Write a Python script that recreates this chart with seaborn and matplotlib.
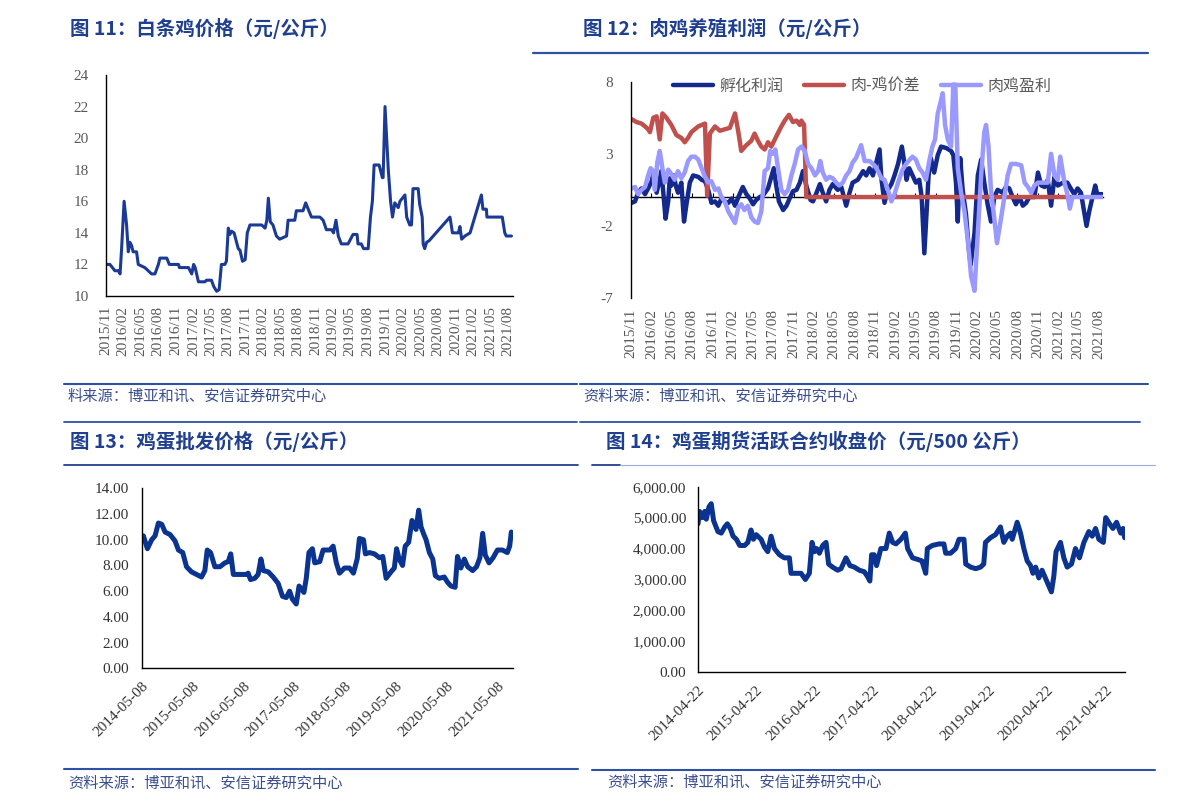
# Four-panel chicken / egg price page (broiler, broiler profit, egg wholesale, egg futures)

import pandas as pd
import matplotlib
matplotlib.use("Agg")
import matplotlib.pyplot as plt
from matplotlib.lines import Line2D
from matplotlib.font_manager import FontProperties
import seaborn as sns

sns.set_style("white")
plt.rcParams['font.family'] = ['Noto Sans CJK SC', 'DejaVu Sans']
plt.rcParams['axes.unicode_minus'] = False

# *Data*

# Fig 11: white-striped chicken price (yuan/kg)
p1_dates = ['2015-11-01', '2015-11-23', '2015-12-19', '2016-01-06', '2016-01-15', '2016-01-23',
            '2016-02-05', '2016-02-18', '2016-02-27', '2016-03-06', '2016-03-15', '2016-03-23',
            '2016-04-10', '2016-04-19', '2016-05-06', '2016-05-23', '2016-06-10', '2016-06-27',
            '2016-07-15', '2016-08-02', '2016-08-10', '2016-09-15', '2016-09-28', '2016-11-15',
            '2016-11-20', '2017-01-06', '2017-01-23', '2017-02-02', '2017-02-10', '2017-02-27',
            '2017-04-02', '2017-04-10', '2017-05-06', '2017-05-18', '2017-06-02', '2017-06-15',
            '2017-06-27', '2017-07-15', '2017-07-23', '2017-08-02', '2017-08-10', '2017-08-19',
            '2017-09-01', '2017-09-23', '2017-10-02', '2017-10-15', '2017-10-29', '2017-11-09',
            '2017-11-23', '2018-01-23', '2018-02-10', '2018-02-19', '2018-02-27', '2018-03-09',
            '2018-03-23', '2018-04-10', '2018-04-27', '2018-05-15', '2018-06-02', '2018-06-10',
            '2018-07-15', '2018-07-23', '2018-08-27', '2018-09-10', '2018-09-23', '2018-10-10',
            '2018-11-23', '2018-12-10', '2018-12-27', '2019-01-23', '2019-02-02', '2019-02-15',
            '2019-02-27', '2019-03-15', '2019-04-19', '2019-05-15', '2019-06-05', '2019-06-10',
            '2019-06-27', '2019-07-09', '2019-08-02', '2019-08-14', '2019-08-24', '2019-09-02',
            '2019-09-28', '2019-10-15', '2019-10-19', '2019-10-29', '2019-11-15', '2019-11-27',
            '2019-12-07', '2019-12-19', '2020-01-06', '2020-01-15', '2020-02-10', '2020-02-19',
            '2020-03-06', '2020-03-15', '2020-03-23', '2020-04-19', '2020-04-27', '2020-05-10',
            '2020-05-15', '2020-05-23', '2020-06-02', '2020-06-15', '2020-10-02', '2020-10-15',
            '2020-11-15', '2020-11-23', '2020-12-02', '2020-12-19', '2021-01-15', '2021-03-15',
            '2021-03-23', '2021-04-10', '2021-04-13', '2021-07-02', '2021-07-15', '2021-07-23',
            '2021-08-19']
p1_price = [12.0, 12.0, 11.6, 11.6, 11.4, 13.0,
            16.0, 14.5, 12.8, 13.4, 13.2, 12.8,
            12.8, 12.0, 11.9, 11.8, 11.6, 11.4,
            11.4, 12.0, 12.4, 12.4, 12.0, 12.0,
            11.8, 11.8, 11.4, 12.0, 11.8, 10.9,
            10.9, 11.0, 11.0, 10.6, 10.3, 10.4,
            12.0, 12.0, 12.2, 14.3, 13.9, 14.1,
            14.0, 13.0, 12.9, 12.2, 12.3, 14.0,
            14.5, 14.5, 14.3, 14.8, 16.2, 14.7,
            14.5, 13.8, 13.6, 13.7, 13.8, 14.8,
            14.8, 15.4, 15.4, 15.9, 15.5, 15.0,
            15.0, 14.8, 14.2, 14.2, 14.0, 14.8,
            13.8, 13.3, 13.3, 13.9, 13.9, 13.3,
            13.3, 13.0, 13.0, 15.0, 16.0, 18.3,
            18.3, 17.5, 17.5, 22.0, 18.0, 16.0,
            15.0, 15.9, 15.6, 16.0, 16.4, 15.0,
            14.5, 14.5, 16.8, 16.8, 15.8, 15.0,
            13.3, 13.0, 13.4, 13.5, 15.0, 14.0,
            14.0, 14.4, 13.6, 13.8, 14.0, 16.4,
            15.5, 15.5, 15.0, 15.0, 14.0, 13.8,
            13.8]

# Fig 12: broiler farming profit (yuan/kg), three series
series_names = ['孵化利润', '肉-鸡价差', '肉鸡盈利']
series_colors = ['#14298C', '#C0504D', '#9999FF']

hatch_dates = ['2015-11-04', '2015-11-19', '2015-12-03', '2015-12-18', '2016-01-03', '2016-01-17',
               '2016-02-02', '2016-02-09', '2016-02-24', '2016-03-09', '2016-03-16', '2016-03-24',
               '2016-04-04', '2016-04-16', '2016-04-23', '2016-04-30', '2016-05-11', '2016-05-20',
               '2016-05-30', '2016-06-14', '2016-06-26', '2016-07-07', '2016-07-22', '2016-08-06',
               '2016-08-29', '2016-09-13', '2016-09-28', '2016-10-13', '2016-10-27', '2016-11-12',
               '2016-11-27', '2016-12-11', '2016-12-26', '2017-01-11', '2017-01-26', '2017-02-10',
               '2017-02-25', '2017-03-17', '2017-04-02', '2017-04-17', '2017-05-02', '2017-05-16',
               '2017-06-01', '2017-06-15', '2017-07-08', '2017-07-23', '2017-08-03', '2017-08-14',
               '2017-08-26', '2017-09-14', '2017-09-29', '2017-10-13', '2017-10-28', '2017-11-13',
               '2017-11-28', '2017-12-12', '2017-12-27', '2018-01-15', '2018-01-26', '2018-02-11',
               '2018-02-26', '2018-03-11', '2018-03-26', '2018-04-10', '2018-04-25', '2018-05-17',
               '2018-06-02', '2018-06-24', '2018-07-09', '2018-07-23', '2018-08-15', '2018-09-08',
               '2018-09-22', '2018-10-07', '2018-10-22', '2018-11-21', '2018-11-29', '2018-12-13',
               '2018-12-28', '2019-01-13', '2019-01-27', '2019-02-12', '2019-03-01', '2019-03-11',
               '2019-03-22', '2019-04-03', '2019-04-18', '2019-05-03', '2019-05-18', '2019-05-29',
               '2019-06-10', '2019-06-20', '2019-06-29', '2019-07-09', '2019-07-24', '2019-08-09',
               '2019-08-24', '2019-09-16', '2019-10-08', '2019-10-18', '2019-10-30', '2019-11-07',
               '2019-11-18', '2019-11-29', '2019-12-14', '2019-12-26', '2020-01-04', '2020-01-21',
               '2020-02-05', '2020-02-20', '2020-03-05', '2020-03-20', '2020-04-04', '2020-04-19',
               '2020-05-04', '2020-05-26', '2020-06-10', '2020-06-25', '2020-07-10', '2020-07-25',
               '2020-08-10', '2020-08-25', '2020-09-09', '2020-09-23', '2020-10-16', '2020-11-01',
               '2020-11-16', '2020-12-01', '2020-12-15', '2020-12-30', '2021-01-14', '2021-01-29',
               '2021-02-21', '2021-03-13', '2021-03-28', '2021-04-13', '2021-04-28', '2021-05-13',
               '2021-05-27', '2021-06-07', '2021-06-19', '2021-07-04', '2021-07-16', '2021-07-25',
               '2021-08-18']
hatch_profit = [-0.4, -0.3, 0.3, 0.6, 0.2, 0.6,
                1.1, 1.6, 0.3, 1.2, 1.8, 0.5,
                -1.5, -0.3, 1.3, 0.8, 1.5, 0.8,
                0.3, 1.0, -1.7, -0.5, 1.0, 1.5,
                1.4, 1.2, 1.1, 0.5, -0.4, -0.3,
                -0.6, -0.1, -0.3, -0.4, -0.1, -0.6,
                0.0, 0.7, 0.2, -0.1, -0.5, -0.2,
                0.0, 0.1, 0.6, 1.4, 2.0, 0.8,
                -0.3, -0.9, -0.6, -0.1, 0.4, 0.5,
                1.0, 1.8, 0.8, -0.2, -0.3, 0.3,
                0.9, 0.3, -0.3, 0.5, 0.9, 0.5,
                0.7, -0.6, 0.3, 1.0, 1.2, 1.8,
                1.5, 2.0, 1.5, 3.3, 1.3, -0.4,
                0.5, 0.9, 1.5, 2.3, 3.5, 2.5,
                1.2, 2.0, 1.5, 1.0, 1.2, 0.0,
                -3.9, -1.0, 1.5, 2.7, 1.7, 2.9,
                3.5, 3.4, 3.2, 2.9, 1.0, -1.7,
                2.7, 0.5, -1.2, -3.5, -4.7, -2.5,
                1.5, 2.6, 1.0, -0.5, -1.7, 0.0,
                0.5, 0.3, 0.7, 0.6, 0.0, -0.5,
                0.0, -0.6, -0.4, 0.0, 0.0, 1.7,
                0.8, 0.7, 1.2, -0.6, 1.4, 0.8,
                1.0, 1.0, 0.6, 0.2, 0.6, 0.3,
                -1.0, -2.0, -1.0, 0.0, 0.8, 0.2,
                0.2]

spread_dates = ['2015-11-04', '2015-11-26', '2015-12-18', '2016-01-03', '2016-01-17', '2016-01-25',
                '2016-02-09', '2016-02-24', '2016-03-09', '2016-03-21', '2016-04-08', '2016-04-30',
                '2016-05-23', '2016-06-14', '2016-06-29', '2016-07-14', '2016-07-29', '2016-08-29',
                '2016-09-28', '2016-10-08', '2016-10-20', '2016-11-12', '2016-12-04', '2016-12-26',
                '2017-01-18', '2017-02-10', '2017-02-25', '2017-03-10', '2017-04-02', '2017-04-24',
                '2017-05-09', '2017-05-24', '2017-06-08', '2017-06-23', '2017-07-08', '2017-07-23',
                '2017-08-14', '2017-09-06', '2017-09-21', '2017-10-10', '2017-10-28', '2017-11-13',
                '2017-11-28', '2017-12-05', '2017-12-17', '2017-12-27', '2021-04-05']
spread_value = [5.4, 5.2, 5.1, 4.9, 4.7, 4.5,
                5.5, 5.6, 4.0, 5.8, 5.5, 5.0,
                4.3, 4.1, 3.8, 4.1, 4.5, 4.9,
                5.1, 0.1, 4.4, 4.9, 4.6, 4.7,
                4.8, 5.8, 4.5, 3.2, 3.6, 3.9,
                4.4, 3.9, 3.5, 3.3, 3.8, 3.5,
                4.2, 4.9, 5.3, 5.7, 5.2, 5.3,
                5.0, 5.3, 5.0, 0.0, 0.0]

broiler_dates = ['2015-11-04', '2015-11-19', '2015-12-03', '2015-12-18', '2016-01-03', '2016-01-17',
                 '2016-01-28', '2016-02-09', '2016-02-16', '2016-02-27', '2016-03-09', '2016-03-21',
                 '2016-04-01', '2016-04-16', '2016-04-30', '2016-05-15', '2016-05-30', '2016-06-14',
                 '2016-06-29', '2016-07-14', '2016-07-29', '2016-08-14', '2016-08-29', '2016-09-13',
                 '2016-09-28', '2016-10-13', '2016-10-27', '2016-11-12', '2016-11-27', '2016-12-11',
                 '2016-12-26', '2017-01-11', '2017-01-26', '2017-02-10', '2017-02-25', '2017-03-10',
                 '2017-03-24', '2017-04-09', '2017-04-24', '2017-05-09', '2017-05-24', '2017-06-08',
                 '2017-06-23', '2017-07-08', '2017-07-18', '2017-07-30', '2017-08-10', '2017-08-22',
                 '2017-09-06', '2017-09-21', '2017-10-06', '2017-10-21', '2017-11-05', '2017-11-20',
                 '2017-12-05', '2017-12-20', '2018-01-04', '2018-01-19', '2018-02-04', '2018-02-18',
                 '2018-02-28', '2018-03-11', '2018-03-26', '2018-04-10', '2018-04-25', '2018-05-10',
                 '2018-05-24', '2018-06-09', '2018-06-24', '2018-07-09', '2018-07-23', '2018-08-07',
                 '2018-08-30', '2018-09-15', '2018-10-07', '2018-10-29', '2018-11-14', '2018-11-29',
                 '2018-12-13', '2018-12-28', '2019-01-13', '2019-01-27', '2019-02-12', '2019-03-04',
                 '2019-03-25', '2019-04-18', '2019-05-03', '2019-05-18', '2019-06-02', '2019-06-17',
                 '2019-07-02', '2019-07-16', '2019-07-28', '2019-08-09', '2019-08-19', '2019-08-31',
                 '2019-09-11', '2019-09-23', '2019-10-08', '2019-10-18', '2019-10-27', '2019-11-07',
                 '2019-11-22', '2019-12-07', '2019-12-22', '2020-01-06', '2020-01-21', '2020-02-05',
                 '2020-02-20', '2020-03-05', '2020-03-13', '2020-03-24', '2020-04-04', '2020-04-19',
                 '2020-05-01', '2020-05-19', '2020-06-03', '2020-06-18', '2020-07-03', '2020-07-25',
                 '2020-08-18', '2020-09-02', '2020-09-17', '2020-10-02', '2020-10-16', '2020-11-01',
                 '2020-11-23', '2020-12-15', '2020-12-30', '2021-01-14', '2021-01-29', '2021-02-09',
                 '2021-02-28', '2021-03-13', '2021-03-24', '2021-04-05', '2021-08-18']
broiler_profit = [0.6, 0.7, 0.2, 0.5, 0.7, 1.5,
                  2.0, 1.8, 0.5, 2.4, 3.2, 2.0,
                  1.0, 1.9, 1.6, 1.2, 1.8, 1.3,
                  1.7, 2.5, 2.8, 2.8, 2.6, 2.0,
                  1.4, 1.0, 1.1, 0.5, 0.6, 0.0,
                  -0.3, -1.0, -1.4, -1.8, -0.7, -0.5,
                  -0.9, -0.6, -1.4, -1.7, -1.8, -1.0,
                  1.8, 2.0, 3.2, 3.0, 3.3, 2.0,
                  0.5, 0.2, 0.5, 1.5, 2.3, 3.3,
                  3.5, 3.2, 2.3, 2.0, 1.5, 1.8,
                  2.5, 1.7, 1.2, 1.4, 1.3, 1.0,
                  0.8, 1.0, 1.5, 1.8, 2.4, 2.7,
                  3.6, 2.5, 2.5, 2.2, 1.8, 1.3,
                  1.2, 0.5, -0.3, 0.2, 1.0, 1.9,
                  2.4, 2.8, 2.6, 2.0, 1.7, 1.2,
                  2.5, 3.5, 4.0, 5.8, 6.4, 7.2,
                  5.0, 4.0, 3.5, 7.8, 7.8, 2.0,
                  0.3, -1.0, -3.0, -5.5, -6.5, -2.5,
                  1.5, 4.5, 5.0, 3.5, 0.5, -1.5,
                  -3.2, -1.5, 0.0, 1.5, 2.3, 2.3,
                  2.2, 1.0, 0.7, 0.3, 0.8, 1.0,
                  1.0, 1.0, 3.0, 1.5, 1.2, 2.8,
                  1.0, 0.2, -0.8, 0.0, 0.0]

# Fig 13: egg wholesale price (yuan/kg)
p3_dates = ['2014-05-08', '2014-05-20', '2014-06-18', '2014-07-19', '2014-08-12', '2014-09-05',
            '2014-09-29', '2014-10-23', '2014-11-28', '2015-01-03', '2015-01-27', '2015-02-27',
            '2015-03-26', '2015-05-01', '2015-06-06', '2015-07-12', '2015-08-05', '2015-08-22',
            '2015-09-15', '2015-10-16', '2015-11-21', '2015-12-27', '2016-01-20', '2016-02-07',
            '2016-02-26', '2016-04-01', '2016-05-30', '2016-06-11', '2016-06-28', '2016-07-29',
            '2016-08-22', '2016-09-11', '2016-09-28', '2016-11-03', '2016-12-08', '2017-01-13',
            '2017-02-13', '2017-03-12', '2017-04-05', '2017-04-24', '2017-05-23', '2017-06-12',
            '2017-07-05', '2017-07-17', '2017-08-03', '2017-08-22', '2017-09-16', '2017-10-03',
            '2017-11-08', '2017-12-02', '2018-01-19', '2018-02-12', '2018-03-07', '2018-03-30',
            '2018-05-05', '2018-06-10', '2018-07-08', '2018-08-04', '2018-08-20', '2018-09-18',
            '2018-10-02', '2018-10-31', '2018-12-06', '2019-01-11', '2019-02-04', '2019-02-28',
            '2019-04-04', '2019-04-28', '2019-05-14', '2019-06-02', '2019-06-26', '2019-07-15',
            '2019-08-09', '2019-09-02', '2019-10-01', '2019-10-20', '2019-11-06', '2019-11-23',
            '2019-12-12', '2020-01-05', '2020-01-29', '2020-02-17', '2020-03-16', '2020-04-21',
            '2020-05-14', '2020-06-08', '2020-07-08', '2020-07-25', '2020-08-18', '2020-09-12',
            '2020-10-06', '2020-11-11', '2020-12-09', '2021-01-02', '2021-01-22', '2021-02-10',
            '2021-03-09', '2021-04-07', '2021-05-08', '2021-06-13', '2021-07-18', '2021-08-04',
            '2021-08-16', '2021-08-28']
p3_price = [10.0, 10.3, 9.3, 10.0, 10.3, 11.3,
            11.2, 10.6, 10.4, 9.9, 9.2, 9.0,
            7.9, 7.5, 7.3, 7.1, 7.6, 9.2,
            9.0, 7.9, 7.9, 8.2, 8.3, 8.9,
            7.3, 7.3, 7.3, 7.4, 6.9, 7.0,
            7.3, 8.5, 7.6, 7.5, 7.1, 6.6,
            5.6, 5.5, 6.0, 5.4, 5.0, 6.4,
            6.1, 5.9, 7.0, 9.0, 9.3, 8.2,
            8.3, 9.2, 9.2, 9.5, 8.2, 7.4,
            7.8, 7.8, 7.4, 8.5, 10.1, 10.0,
            8.9, 9.0, 8.9, 8.6, 8.7, 7.0,
            7.5, 7.8, 9.3, 8.5, 8.0, 9.5,
            9.8, 11.5, 10.8, 12.3, 11.0, 10.5,
            10.0, 9.0, 8.5, 7.2, 7.0, 7.1,
            6.7, 6.4, 6.3, 8.7, 7.8, 8.5,
            7.9, 7.6, 7.9, 8.6, 10.5, 8.8,
            8.2, 8.6, 9.2, 9.2, 9.0, 9.5,
            10.6, 10.4]

# Fig 14: egg futures active contract close (yuan/500kg)
p4_dates = ['2014-04-22', '2014-05-02', '2014-05-19', '2014-06-03', '2014-06-13', '2014-06-30',
            '2014-07-14', '2014-07-29', '2014-08-25', '2014-09-15', '2014-10-07', '2014-10-23',
            '2014-11-11', '2014-11-28', '2014-12-19', '2015-01-09', '2015-02-09', '2015-03-01',
            '2015-03-21', '2015-04-05', '2015-04-22', '2015-05-23', '2015-06-13', '2015-07-04',
            '2015-07-25', '2015-08-15', '2015-09-15', '2015-10-16', '2015-11-17', '2015-11-27',
            '2015-12-29', '2016-01-29', '2016-02-25', '2016-03-21', '2016-04-07', '2016-04-22',
            '2016-05-06', '2016-05-23', '2016-06-13', '2016-07-04', '2016-07-20', '2016-08-14',
            '2016-09-15', '2016-10-06', '2016-11-06', '2016-12-01', '2016-12-29', '2017-01-29',
            '2017-03-01', '2017-03-21', '2017-04-05', '2017-04-16', '2017-05-02', '2017-05-17',
            '2017-06-13', '2017-07-15', '2017-08-05', '2017-08-26', '2017-09-16', '2017-10-17',
            '2017-11-14', '2017-11-28', '2017-12-29', '2018-01-30', '2018-02-26', '2018-03-22',
            '2018-04-01', '2018-05-02', '2018-06-13', '2018-07-14', '2018-07-25', '2018-08-25',
            '2018-09-26', '2018-10-17', '2018-11-17', '2018-11-28', '2018-12-29', '2019-01-30',
            '2019-03-01', '2019-03-21', '2019-04-01', '2019-05-02', '2019-06-03', '2019-07-04',
            '2019-07-25', '2019-08-15', '2019-09-05', '2019-09-16', '2019-10-17', '2019-11-07',
            '2019-11-28', '2019-12-19', '2020-01-09', '2020-01-24', '2020-02-10', '2020-03-01',
            '2020-03-21', '2020-04-11', '2020-05-02', '2020-05-19', '2020-06-03', '2020-06-17',
            '2020-07-15', '2020-08-05', '2020-08-26', '2020-09-22', '2020-10-17', '2020-11-11',
            '2020-12-09', '2021-01-09', '2021-01-30', '2021-02-20', '2021-03-13', '2021-04-10',
            '2021-04-25', '2021-05-19', '2021-06-09', '2021-07-02', '2021-07-13', '2021-07-28',
            '2021-08-12', '2021-08-22']
p4_close = [4800, 5200, 5000, 5200, 4950, 5350,
            5450, 4900, 4550, 4500, 4700, 4800,
            4650, 4400, 4300, 4100, 4100, 4200,
            4600, 4300, 4450, 4300, 4050, 3900,
            4400, 4000, 3800, 3700, 3700, 3200,
            3200, 3200, 3000, 3200, 4200, 3900,
            4000, 3850, 4100, 4200, 3500, 3400,
            3300, 3350, 3700, 3450, 3400, 3300,
            3250, 3100, 2950, 3800, 3800, 3450,
            4000, 4000, 4500, 4200, 4150, 4300,
            4500, 4000, 3700, 3650, 3600, 3200,
            4000, 4100, 4150, 4150, 3850, 3850,
            4000, 4300, 4300, 3500, 3400, 3350,
            3400, 3500, 4200, 4350, 4450, 4700,
            4200, 4400, 4500, 4300, 4850, 4500,
            4000, 3600, 3450, 3200, 3400, 3050,
            3300, 3050, 2800, 2600, 3100, 3900,
            4200, 3700, 3400, 3500, 4000, 3700,
            4200, 4550, 4400, 4650, 4300, 4200,
            5000, 4800, 4650, 4850, 4700, 4500,
            4650, 4350]

# *Layout helpers* (page is 1191 x 811 px)
W, H = 1191, 811
fig = plt.figure(figsize=(W / 100, H / 100), dpi=100)

def px_axes(x0, y0, x1, y1):
    return fig.add_axes([x0 / W, 1 - y1 / H, (x1 - x0) / W, (y1 - y0) / H])

def rule(x0, x1, y, color, lw):
    fig.add_artist(Line2D([x0 / W, x1 / W], [1 - y / H, 1 - y / H], color=color, lw=lw,
                          transform=fig.transFigure))

def page_text(x, y, s, **kw):
    fig.text(x / W, 1 - y / H, s, ha='left', va='center', **kw)

title_color = '#1F3F8F'
rule_color = '#2E52A3'
source_color = '#3B4F8E'
serif = 'Liberation Serif'
grey_tick = dict(fontfamily=serif, fontsize=11, color='#595959')
dark_tick = dict(fontfamily=serif, fontsize=11, color='#333333')

def style_spines(ax):
    sns.despine(ax=ax)
    for s in ['left', 'bottom']:
        ax.spines[s].set_color('black')
        ax.spines[s].set_linewidth(1)

quarter_ticks = pd.date_range('2015-11-01', '2021-08-01', freq='3MS')

# *Fig 11*
ax1 = px_axes(105.7, 75, 513, 296)
df1 = pd.DataFrame({'date': pd.to_datetime(p1_dates), 'price': p1_price})
sns.lineplot(data=df1, x='date', y='price', ax=ax1, color='#1B3A96', linewidth=2.2)
ax1.set_xlim(pd.Timestamp('2015-11-01'), pd.Timestamp('2021-08-27'))
ax1.set_ylim(10, 24)
ax1.set_yticks(range(10, 25, 2))
ax1.set_yticklabels([str(v) for v in range(10, 25, 2)], **grey_tick)
ax1.set_xticks(quarter_ticks)
ax1.set_xticklabels([d.strftime('%Y/%m') for d in quarter_ticks], rotation=90, **grey_tick)
ax1.tick_params(direction='in', length=4, width=0.8, color='black')
ax1.tick_params(axis='x', pad=7)
ax1.tick_params(axis='y', pad=12)
ax1.set_xlabel('')
ax1.set_ylabel('')
style_spines(ax1)

# *Fig 12*
ax2 = px_axes(631, 81.7, 1103, 298)
df2 = pd.concat([
    pd.DataFrame({'date': pd.to_datetime(hatch_dates), 'value': hatch_profit, 'series': series_names[0]}),
    pd.DataFrame({'date': pd.to_datetime(spread_dates), 'value': spread_value, 'series': series_names[1]}),
    pd.DataFrame({'date': pd.to_datetime(broiler_dates), 'value': broiler_profit, 'series': series_names[2]}),
])
sns.lineplot(data=df2, x='date', y='value', hue='series', hue_order=series_names,
             palette=dict(zip(series_names, series_colors)), estimator=None,
             linewidth=3.2, ax=ax2, legend=False)
ax2.set_xlim(pd.Timestamp('2015-11-01'), pd.Timestamp('2021-08-20'))
ax2.set_ylim(-7, 8)
ax2.set_yticks([-7, -2, 3, 8])
ax2.set_yticklabels(['-7', '-2', '3', '8'], **grey_tick)
ax2.set_xticks(quarter_ticks)
ax2.set_xticklabels([d.strftime('%Y/%m') for d in quarter_ticks], rotation=90, **grey_tick)
ax2.tick_params(axis='x', length=0, pad=8)
ax2.tick_params(axis='y', length=0, pad=13)
ax2.set_xlabel('')
ax2.set_ylabel('')
style_spines(ax2)
ax2.spines['bottom'].set_visible(False)
# horizontal axis crosses at zero
zero_axis = ax2.secondary_xaxis(7 / 15)
zero_axis.set_xticks(quarter_ticks)
zero_axis.tick_params(axis='x', direction='in', length=3, width=0.8, color='black',
                      labelbottom=False, labeltop=False)
zero_axis.spines['bottom'].set_color('black')
zero_axis.spines['bottom'].set_linewidth(1)

handles = [Line2D([], [], color=c, lw=3.2, solid_capstyle='round') for c in series_colors]
ax2.legend(handles, series_names, loc='center', bbox_to_anchor=(0.49, 0.98), ncol=3,
           frameon=False, handlelength=2.5, handletextpad=0.4, columnspacing=1.3,
           prop=FontProperties(family=['Noto Sans CJK SC', 'DejaVu Sans'], size=11.5),
           labelcolor='#595959')

# *Fig 13*
ax3 = px_axes(141.7, 488.3, 513, 668.3)
df3 = pd.DataFrame({'date': pd.to_datetime(p3_dates), 'price': p3_price})
sns.lineplot(data=df3, x='date', y='price', ax=ax3, color='#0B3390', linewidth=3.6)
p3_ticks = [pd.Timestamp(f'{y}-05-08') for y in range(2014, 2022)]
ax3.set_xlim(pd.Timestamp('2014-05-08'), pd.Timestamp('2021-08-28'))
ax3.set_ylim(0, 14)
ax3.set_yticks(range(0, 15, 2))
ax3.set_yticklabels([f'{v:.2f}' for v in range(0, 15, 2)], **dark_tick)
ax3.set_xticks(p3_ticks)
ax3.set_xticklabels([d.strftime('%Y-%m-%d') for d in p3_ticks], rotation=45, ha='right',
                    rotation_mode='anchor', **dark_tick)
ax3.tick_params(direction='in', length=5, width=0.8, color='black')
ax3.tick_params(axis='x', pad=8)
ax3.tick_params(axis='y', pad=9)
ax3.set_xlabel('')
ax3.set_ylabel('')
style_spines(ax3)

# *Fig 14*
ax4 = px_axes(698, 486.7, 1125, 672.3)
df4 = pd.DataFrame({'date': pd.to_datetime(p4_dates), 'close': p4_close})
sns.lineplot(data=df4, x='date', y='close', ax=ax4, color='#0B3390', linewidth=3.6)
p4_ticks = [pd.Timestamp(f'{y}-04-22') for y in range(2014, 2022)]
ax4.set_xlim(pd.Timestamp('2014-04-22'), pd.Timestamp('2021-08-24'))
ax4.set_ylim(0, 6000)
ax4.set_yticks(range(0, 6001, 1000))
ax4.set_yticklabels([f'{v:,.2f}' for v in range(0, 6001, 1000)], **dark_tick)
ax4.set_xticks(p4_ticks)
ax4.set_xticklabels([d.strftime('%Y-%m-%d') for d in p4_ticks], rotation=45, ha='right',
                    rotation_mode='anchor', **dark_tick)
ax4.tick_params(direction='in', length=5, width=0.8, color='black')
ax4.tick_params(axis='x', pad=8)
ax4.tick_params(axis='y', pad=8.5)
ax4.set_xlabel('')
ax4.set_ylabel('')
style_spines(ax4)

# *Page titles, rules and source notes*
title_kw = dict(color=title_color, fontsize=14, fontweight='bold')
page_text(70, 28, '图 11：白条鸡价格（元/公斤）', **title_kw)
page_text(583, 28, '图 12：肉鸡养殖利润（元/公斤）', **title_kw)
page_text(70, 441, '图 13：鸡蛋批发价格（元/公斤）', **title_kw)
page_text(606, 441, '图 14：鸡蛋期货活跃合约收盘价（元/500 公斤）', **title_kw)

rule(533, 1148, 53, rule_color, 1.6)
rule(64, 577, 384, rule_color, 1.5)
rule(580, 1148, 384, rule_color, 1.5)
rule(64, 577, 422, rule_color, 1.3)
rule(580, 1140, 422, rule_color, 1.3)
rule(64, 578, 465, '#1F3F8F', 1.3)
rule(592, 620, 465, '#1F3F8F', 1.3)
rule(620, 1155, 465, '#9AAAD6', 0.8)
rule(64, 578, 769, rule_color, 1.5)
rule(592, 1155, 770, rule_color, 1.5)

source_kw = dict(color=source_color, fontsize=11, style='italic')
page_text(68, 396, '料来源：博亚和讯、安信证券研究中心', **source_kw)
page_text(583, 396, '资料来源：博亚和讯、安信证券研究中心', **source_kw)
page_text(68, 783, '资料来源：博亚和讯、安信证券研究中心', **source_kw)
page_text(607, 782, '资料来源：博亚和讯、安信证券研究中心', **source_kw)

fig.savefig('out.png', dpi=100)
